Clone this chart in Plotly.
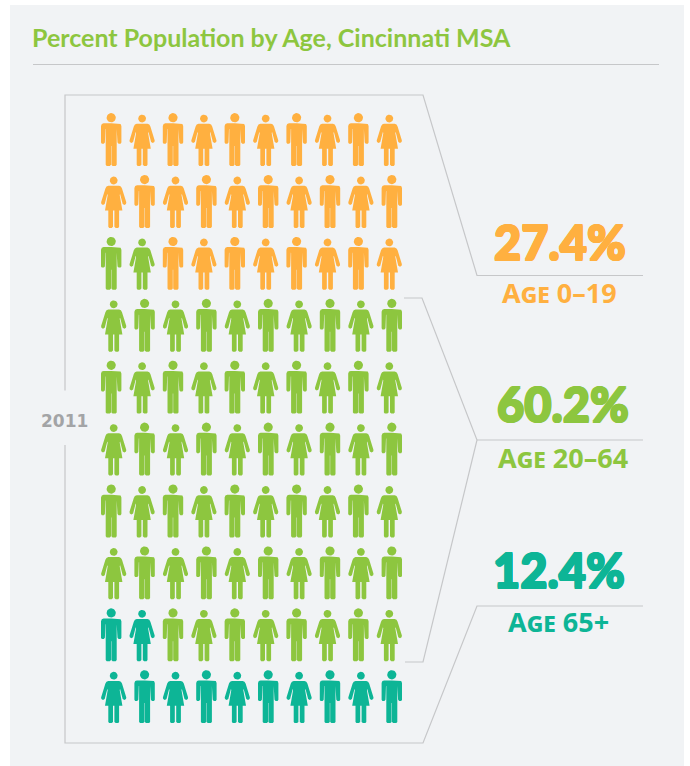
import numpy as np
import plotly.graph_objects as go

# ---- data ----
age_groups = ["Age 0–19", "Age 20–64", "Age 65+"]
percents = [27.4, 60.2, 12.4]
icon_counts = [28, 60, 12]
year_label = "2011"
title_text = "Percent Population by Age, Cincinnati MSA"
group_colors = ["#FFB040", "#8DC63F", "#0DB596"]

W, H = 690, 766
COLS, ROWS = 10, 10
PITCH_X, PITCH_Y = 30.9, 61.9
X0, Y0 = 111.2, 113.0
ROW_SHIFT = 2.5
GREY = "#C6C7C9"
PANEL = "#F1F3F5"


def px(x):
    return x / W


def py(y):
    return 1 - y / H


def mirror(half):
    return half + [(-a, b) for a, b in reversed(half)]


def circle(cy, r, n=24):
    t = np.linspace(0, 2 * np.pi, n, endpoint=False)
    return list(zip(r * np.cos(t), cy + r * np.sin(t)))


MAN = [circle(4.7, 4.6), mirror([
    (0, 10.3), (7.6, 10.3), (9.4, 11), (10.2, 13), (10.2, 29.6), (9.4, 30.8), (7.4, 30.8),
    (6.3, 29.6), (5.8, 16), (5.5, 16), (5.5, 51.8), (4.5, 53), (1.4, 53), (0.2, 51.8),
    (0.2, 33), (0, 33)])]
WOMAN = [circle(5.6, 3.9), mirror([
    (0, 10.8), (5.4, 10.8), (7.2, 11.6), (8.3, 13.5), (12.6, 27.4), (12.3, 29), (10.7, 30),
    (9.0, 29), (6.4, 19), (6.0, 20), (8.7, 35.7), (5.4, 35.7), (5.4, 51.8), (4.5, 53),
    (2, 53), (0.7, 51.8), (0.7, 35.7), (0, 35.7)])]

# Icons fill from the top row, right to left, in group order.
order = [(r, c) for r in range(ROWS) for c in reversed(range(COLS))]
fig = go.Figure()
start = 0
for name, n, colour in zip(age_groups, icon_counts, group_colors):
    xs, ys = [], []
    for r, c in order[start:start + n]:
        cx = c + (ROW_SHIFT / PITCH_X if r % 2 else 0)
        icon = MAN if (r + c) % 2 == 0 else WOMAN
        for poly in icon:
            for dx, dy in poly:
                xs.append(cx + dx / PITCH_X)
                ys.append(r + dy / PITCH_Y)
            xs.append(None)
            ys.append(None)
    start += n
    fig.add_trace(go.Scatter(x=xs, y=ys, mode="lines", fill="toself", fillcolor=colour,
                             line=dict(width=0, color=colour), name=name, hoverinfo="name",
                             showlegend=False))


def line(points, width=1.2):
    d = "M " + " L ".join(f"{px(x):.5f},{py(y):.5f}" for x, y in points)
    return dict(type="path", xref="paper", yref="paper", path=d,
                line=dict(color=GREY, width=width), layer="below")


shapes = [
    dict(type="rect", xref="paper", yref="paper", x0=px(10), x1=px(684), y0=0, y1=py(5),
         fillcolor=PANEL, line=dict(width=0), layer="below"),
    line([(33, 64.5), (659, 64.5)]),
    line([(65, 390.5), (65, 95), (423, 95), (477, 275.5), (643, 275.5)]),
    line([(65, 445), (65, 743), (423, 743), (477, 606), (643, 606)]),
    line([(404, 298), (422, 298), (477, 440), (423, 662), (405, 662)]),
    line([(477, 440), (643, 440)]),
]


def thick(colour, d=0.8):
    return ",".join(f"{a}px {b}px 0 {colour}" for a, b in
                    [(d, 0), (-d, 0), (0, d), (0, -d), (d, d), (-d, -d), (d, -d), (-d, d)])


annotations = [
    dict(x=px(271.5), y=py(37.5), text=f"<b>{title_text}</b>",
         font=dict(family="Lato", size=25, color=group_colors[1])),
    dict(x=px(64), y=py(420.5), text=f"<b>{year_label}</b>",
         font=dict(family="DejaVu Sans", size=17, color="#A3A4A6")),
]
pct_x = [560, 563, 559]
pct_y = [242, 404, 570]
lab_x = [559, 563, 558]
lab_y = [292, 457, 621]
for pct, name, colour, xp, yp, xl, yl in zip(percents, age_groups, group_colors, pct_x, pct_y, lab_x, lab_y):
    annotations.append(dict(x=px(xp), y=py(yp), text=f"{pct}%",
                            font=dict(family="Lato", size=47, color=colour, weight=900,
                                      shadow=thick(colour))))
    annotations.append(dict(x=px(xl), y=py(yl), text=f"<b>{name}</b>",
                            font=dict(family="Noto Sans", size=27, color=colour, variant="small-caps")))
for a in annotations:
    a.update(xref="paper", yref="paper", xanchor="center", yanchor="middle", showarrow=False)

fig.update_layout(
    width=W, height=H, margin=dict(l=0, r=0, t=0, b=0),
    paper_bgcolor="white", plot_bgcolor="rgba(0,0,0,0)",
    xaxis=dict(visible=False, range=[-X0 / PITCH_X, (W - X0) / PITCH_X]),
    yaxis=dict(visible=False, range=[(H - Y0) / PITCH_Y, -Y0 / PITCH_Y]),
    shapes=shapes, annotations=annotations, showlegend=False,
)
fig.write_html("out.html", post_script="document.body.style.margin='0';",
               config=dict(displayModeBar=False))
